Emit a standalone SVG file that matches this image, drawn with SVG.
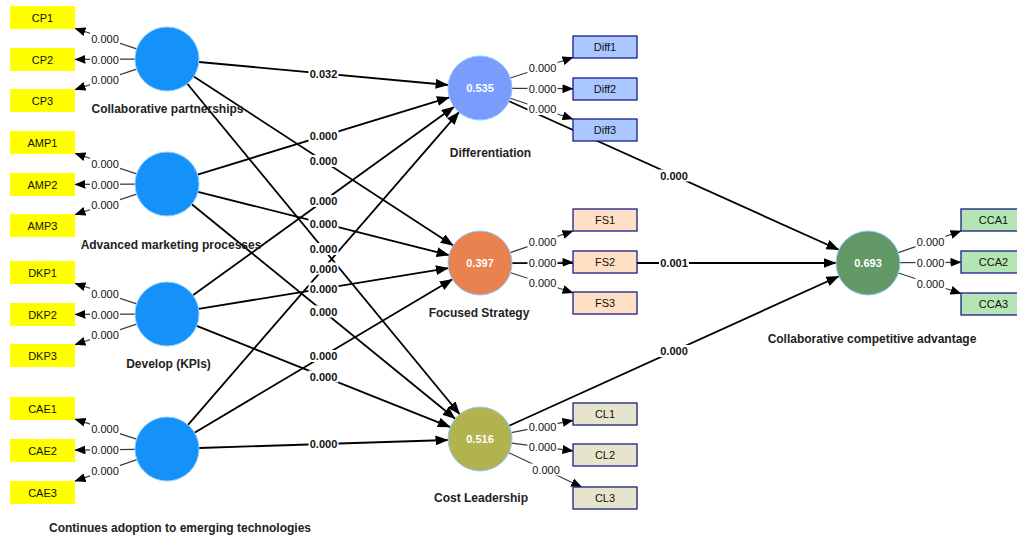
<svg xmlns="http://www.w3.org/2000/svg" width="1017" height="535" viewBox="0 0 1017 535">
  <defs>
    <marker id="ah" markerUnits="userSpaceOnUse" markerWidth="13" markerHeight="10" refX="12.5" refY="5" orient="auto">
      <path d="M0,0 L13,5 L0,10 z" fill="#000"/>
    </marker>
    <marker id="ahs" markerUnits="userSpaceOnUse" markerWidth="11" markerHeight="9" refX="10.5" refY="4.5" orient="auto">
      <path d="M0,0 L11,4.5 L0,9 z" fill="#000"/>
    </marker>
    <style>
      text { font-family: "Liberation Sans", Arial, sans-serif; }
      .path { stroke: #000; stroke-width: 1.8; fill: none; marker-end: url(#ah); }
      .load { stroke: #3a3a3a; stroke-width: 1.2; fill: none; marker-end: url(#ahs); }
      .bg { fill: #fff; }
      .coef { font-size: 11px; font-weight: bold; fill: #111; text-anchor: middle; }
      .ld { font-size: 11px; fill: #111; text-anchor: middle; }
      .exo { fill: #1592fa; stroke: #8fcbff; stroke-width: 1; }
      .diff { fill: #7b9cff; stroke: #8fcbff; stroke-width: 1; }
      .fs { fill: #e8834f; stroke: #8fcbff; stroke-width: 1; }
      .cl { fill: #b2b24e; stroke: #8fcbff; stroke-width: 1; }
      .cca { fill: #629966; stroke: #8fcbff; stroke-width: 1; }
      .val { font-size: 11px; font-weight: bold; fill: #fff; text-anchor: middle; }
      .name { font-size: 12px; font-weight: bold; fill: #222; text-anchor: middle; }
      .yel { fill: #ffff00; }
      .bdiff { fill: #aac7ff; stroke: #1c1c8c; stroke-width: 1.3; }
      .bfs { fill: #ffe0c4; stroke: #1c1c8c; stroke-width: 1.3; }
      .bcl { fill: #e6e5cb; stroke: #1c1c8c; stroke-width: 1.3; }
      .bcca { fill: #b3e6b2; stroke: #1c1c8c; stroke-width: 1.3; }
      .itxt { font-size: 11px; fill: #111; text-anchor: middle; }
    </style>
  </defs>

  <rect x="0" y="0" width="1017" height="535" fill="#fff"/>

  <!-- connectors: structural paths, outer loadings and their coefficient labels -->
  <g id="connectors">
    <!-- structural paths -->
    <line class="path" x1="198.9" y1="62.0" x2="448.1" y2="85.0"/>
    <line class="path" x1="193.8" y1="76.5" x2="453.2" y2="245.5"/>
    <line class="path" x1="187.3" y1="83.7" x2="459.7" y2="414.3"/>
    <line class="path" x1="197.6" y1="174.6" x2="449.4" y2="97.4"/>
    <line class="path" x1="198.0" y1="191.8" x2="449.0" y2="255.2"/>
    <line class="path" x1="191.8" y1="204.2" x2="455.2" y2="418.8"/>
    <line class="path" x1="192.9" y1="295.3" x2="454.1" y2="106.7"/>
    <line class="path" x1="198.6" y1="308.9" x2="448.4" y2="268.1"/>
    <line class="path" x1="196.7" y1="325.9" x2="450.3" y2="427.1"/>
    <line class="path" x1="188.0" y1="424.8" x2="459.0" y2="112.2"/>
    <line class="path" x1="194.5" y1="432.7" x2="452.5" y2="279.3"/>
    <line class="path" x1="199.0" y1="448.0" x2="448.0" y2="440.0"/>
    <line class="path" x1="509.2" y1="101.2" x2="838.8" y2="249.8"/>
    <line class="path" x1="512" y1="263" x2="836" y2="263"/>
    <line class="path" x1="509.1" y1="425.8" x2="838.9" y2="276.2"/>

    <!-- outer loadings, left -->
    <line class="load" x1="136.6" y1="48.9" x2="75" y2="28.3"/>
    <line class="load" x1="135" y1="59.1" x2="75" y2="59.4"/>
    <line class="load" x1="136.6" y1="69.1" x2="75" y2="89.7"/>
    <line class="load" x1="136.6" y1="173.9" x2="75" y2="153.3"/>
    <line class="load" x1="135" y1="184.1" x2="75" y2="184.4"/>
    <line class="load" x1="136.6" y1="194.1" x2="75" y2="214.7"/>
    <line class="load" x1="136.6" y1="303.9" x2="75" y2="283.3"/>
    <line class="load" x1="135" y1="314.1" x2="75" y2="314.4"/>
    <line class="load" x1="136.6" y1="324.1" x2="75" y2="344.7"/>
    <line class="load" x1="136.6" y1="439.1" x2="75" y2="419.1"/>
    <line class="load" x1="135" y1="449.4" x2="75" y2="450.1"/>
    <line class="load" x1="136.8" y1="459.6" x2="75" y2="481.1"/>

    <!-- outer loadings, right -->
    <line class="load" x1="510.4" y1="78.0" x2="573" y2="57.5"/>
    <line class="load" x1="512" y1="88.3" x2="573" y2="88.7"/>
    <line class="load" x1="510.3" y1="98.2" x2="573" y2="119.2"/>
    <line class="load" x1="510.3" y1="252.6" x2="573" y2="231"/>
    <line class="load" x1="512" y1="262.7" x2="573" y2="262.3"/>
    <line class="load" x1="510.5" y1="272.8" x2="573" y2="292.8"/>
    <line class="load" x1="511.4" y1="432.7" x2="573" y2="420.4"/>
    <line class="load" x1="511.7" y1="443.1" x2="573" y2="450.9"/>
    <line class="load" x1="508.9" y1="452.7" x2="581.7" y2="487"/>
    <line class="load" x1="898.3" y1="252.6" x2="961" y2="231"/>
    <line class="load" x1="900" y1="262.7" x2="961" y2="262.3"/>
    <line class="load" x1="898.4" y1="273.0" x2="961" y2="293.5"/>

    <!-- path coefficient labels -->
    <g>
      <rect class="bg" x="308.5" y="67.5" width="30" height="12"/><text class="coef" x="323.5" y="77.5">0.032</text>
      <rect class="bg" x="308.5" y="130" width="30" height="12"/><text class="coef" x="323.5" y="140">0.000</text>
      <rect class="bg" x="308.5" y="155" width="30" height="12"/><text class="coef" x="323.5" y="165">0.000</text>
      <rect class="bg" x="308.5" y="195" width="30" height="12"/><text class="coef" x="323.5" y="205">0.000</text>
      <rect class="bg" x="308.5" y="217.5" width="30" height="12"/><text class="coef" x="323.5" y="227.5">0.000</text>
      <rect class="bg" x="308.5" y="243" width="30" height="12"/><text class="coef" x="323.5" y="253">0.000</text>
      <rect class="bg" x="308.5" y="262.5" width="30" height="12"/><text class="coef" x="323.5" y="272.5">0.000</text>
      <rect class="bg" x="308.5" y="282.5" width="30" height="12"/><text class="coef" x="323.5" y="292.5">0.000</text>
      <rect class="bg" x="308.5" y="305.5" width="30" height="12"/><text class="coef" x="323.5" y="315.5">0.000</text>
      <rect class="bg" x="308.5" y="350" width="30" height="12"/><text class="coef" x="323.5" y="360">0.000</text>
      <rect class="bg" x="308.5" y="370.5" width="30" height="12"/><text class="coef" x="323.5" y="380.5">0.000</text>
      <rect class="bg" x="308.5" y="438" width="30" height="12"/><text class="coef" x="323.5" y="448">0.000</text>
      <rect class="bg" x="659" y="169.5" width="30" height="12"/><text class="coef" x="674" y="179.5">0.000</text>
      <rect class="bg" x="659" y="257" width="30" height="12"/><text class="coef" x="674" y="267">0.001</text>
      <rect class="bg" x="659" y="345" width="30" height="12"/><text class="coef" x="674" y="355">0.000</text>
    </g>

    <!-- outer loading labels -->
    <g>
      <rect class="bg" x="90" y="32.5" width="30" height="12"/><text class="ld" x="105" y="42.5">0.000</text>
      <rect class="bg" x="90" y="53.5" width="30" height="12"/><text class="ld" x="105" y="63.5">0.000</text>
      <rect class="bg" x="90" y="74" width="30" height="12"/><text class="ld" x="105" y="84">0.000</text>
      <rect class="bg" x="90" y="157.5" width="30" height="12"/><text class="ld" x="105" y="167.5">0.000</text>
      <rect class="bg" x="90" y="178.5" width="30" height="12"/><text class="ld" x="105" y="188.5">0.000</text>
      <rect class="bg" x="90" y="199" width="30" height="12"/><text class="ld" x="105" y="209">0.000</text>
      <rect class="bg" x="90" y="287.5" width="30" height="12"/><text class="ld" x="105" y="297.5">0.000</text>
      <rect class="bg" x="90" y="308.5" width="30" height="12"/><text class="ld" x="105" y="318.5">0.000</text>
      <rect class="bg" x="90" y="329" width="30" height="12"/><text class="ld" x="105" y="339">0.000</text>
      <rect class="bg" x="90" y="423" width="30" height="12"/><text class="ld" x="105" y="433">0.000</text>
      <rect class="bg" x="90" y="444" width="30" height="12"/><text class="ld" x="105" y="454">0.000</text>
      <rect class="bg" x="90" y="465" width="30" height="12"/><text class="ld" x="105" y="475">0.000</text>

      <rect class="bg" x="527.5" y="61.5" width="30" height="12"/><text class="ld" x="542.5" y="71.5">0.000</text>
      <rect class="bg" x="527.5" y="82.5" width="30" height="12"/><text class="ld" x="542.5" y="92.5">0.000</text>
      <rect class="bg" x="527.5" y="103" width="30" height="12"/><text class="ld" x="542.5" y="113">0.000</text>
      <rect class="bg" x="527.5" y="235.5" width="30" height="12"/><text class="ld" x="542.5" y="245.5">0.000</text>
      <rect class="bg" x="527.5" y="256.5" width="30" height="12"/><text class="ld" x="542.5" y="266.5">0.000</text>
      <rect class="bg" x="527.5" y="277" width="30" height="12"/><text class="ld" x="542.5" y="287">0.000</text>
      <rect class="bg" x="527.5" y="420.5" width="30" height="12"/><text class="ld" x="542.5" y="430.5">0.000</text>
      <rect class="bg" x="527.5" y="441" width="30" height="12"/><text class="ld" x="542.5" y="451">0.000</text>
      <rect class="bg" x="531" y="463.5" width="30" height="12"/><text class="ld" x="546" y="473.5">0.000</text>
      <rect class="bg" x="915.5" y="235.5" width="30" height="12"/><text class="ld" x="930.5" y="245.5">0.000</text>
      <rect class="bg" x="915.5" y="256.5" width="30" height="12"/><text class="ld" x="930.5" y="266.5">0.000</text>
      <rect class="bg" x="915.5" y="277.5" width="30" height="12"/><text class="ld" x="930.5" y="287.5">0.000</text>
    </g>
  </g>

  <!-- latent variables -->
  <g id="cp">
    <circle class="exo" cx="167" cy="59" r="32"/>
    <text class="name" x="167.5" y="113">Collaborative partnerships</text>
  </g>
  <g id="amp">
    <circle class="exo" cx="167" cy="184" r="32"/>
    <text class="name" x="171" y="249">Advanced marketing processes</text>
  </g>
  <g id="dkp">
    <circle class="exo" cx="167" cy="314" r="32"/>
    <text class="name" x="168.5" y="368">Develop (KPIs)</text>
  </g>
  <g id="cae">
    <circle class="exo" cx="167" cy="449" r="32"/>
    <text class="name" x="180" y="532">Continues adoption to emerging technologies</text>
  </g>
  <g id="differentiation">
    <circle class="diff" cx="480" cy="88" r="32"/>
    <text class="val" x="480" y="92">0.535</text>
    <text class="name" x="490.5" y="157">Differentiation</text>
  </g>
  <g id="focused-strategy">
    <circle class="fs" cx="480" cy="263" r="32"/>
    <text class="val" x="480" y="267">0.397</text>
    <text class="name" x="479" y="317">Focused Strategy</text>
  </g>
  <g id="cost-leadership">
    <circle class="cl" cx="480" cy="439" r="32"/>
    <text class="val" x="480" y="443">0.516</text>
    <text class="name" x="481" y="502">Cost Leadership</text>
  </g>
  <g id="cca">
    <circle class="cca" cx="868" cy="263" r="32"/>
    <text class="val" x="868" y="267">0.693</text>
    <text class="name" x="872" y="343">Collaborative competitive advantage</text>
  </g>

  <!-- indicators, left -->
  <g id="CP1"><rect class="yel" x="10" y="6" width="65" height="23"/><text class="itxt" x="42.5" y="21.5">CP1</text></g>
  <g id="CP2"><rect class="yel" x="10" y="48" width="65" height="23"/><text class="itxt" x="42.5" y="63.5">CP2</text></g>
  <g id="CP3"><rect class="yel" x="10" y="89" width="65" height="23"/><text class="itxt" x="42.5" y="104.5">CP3</text></g>
  <g id="AMP1"><rect class="yel" x="10" y="131" width="65" height="23"/><text class="itxt" x="42.5" y="146.5">AMP1</text></g>
  <g id="AMP2"><rect class="yel" x="10" y="173" width="65" height="23"/><text class="itxt" x="42.5" y="188.5">AMP2</text></g>
  <g id="AMP3"><rect class="yel" x="10" y="214" width="65" height="23"/><text class="itxt" x="42.5" y="229.5">AMP3</text></g>
  <g id="DKP1"><rect class="yel" x="10" y="261" width="65" height="23"/><text class="itxt" x="42.5" y="276.5">DKP1</text></g>
  <g id="DKP2"><rect class="yel" x="10" y="303" width="65" height="23"/><text class="itxt" x="42.5" y="318.5">DKP2</text></g>
  <g id="DKP3"><rect class="yel" x="10" y="344" width="65" height="23"/><text class="itxt" x="42.5" y="359.5">DKP3</text></g>
  <g id="CAE1"><rect class="yel" x="10" y="397" width="65" height="23"/><text class="itxt" x="42.5" y="412.5">CAE1</text></g>
  <g id="CAE2"><rect class="yel" x="10" y="439" width="65" height="23"/><text class="itxt" x="42.5" y="454.5">CAE2</text></g>
  <g id="CAE3"><rect class="yel" x="10" y="481" width="65" height="23"/><text class="itxt" x="42.5" y="496.5">CAE3</text></g>

  <!-- indicators, right -->
  <g id="Diff1"><rect class="bdiff" x="573" y="36" width="64" height="22"/><text class="itxt" x="605" y="51">Diff1</text></g>
  <g id="Diff2"><rect class="bdiff" x="573" y="78" width="64" height="22"/><text class="itxt" x="605" y="93">Diff2</text></g>
  <g id="Diff3"><rect class="bdiff" x="573" y="119" width="64" height="22"/><text class="itxt" x="605" y="134">Diff3</text></g>
  <g id="FS1"><rect class="bfs" x="573" y="209" width="64" height="22"/><text class="itxt" x="605" y="224">FS1</text></g>
  <g id="FS2"><rect class="bfs" x="573" y="251" width="64" height="22"/><text class="itxt" x="605" y="266">FS2</text></g>
  <g id="FS3"><rect class="bfs" x="573" y="292" width="64" height="22"/><text class="itxt" x="605" y="307">FS3</text></g>
  <g id="CL1"><rect class="bcl" x="573" y="403" width="64" height="22"/><text class="itxt" x="605" y="418">CL1</text></g>
  <g id="CL2"><rect class="bcl" x="573" y="444" width="64" height="22"/><text class="itxt" x="605" y="459">CL2</text></g>
  <g id="CL3"><rect class="bcl" x="573" y="487" width="64" height="22"/><text class="itxt" x="605" y="502">CL3</text></g>
  <g id="CCA1"><rect class="bcca" x="961" y="209" width="65" height="22"/><text class="itxt" x="993.5" y="224">CCA1</text></g>
  <g id="CCA2"><rect class="bcca" x="961" y="251" width="65" height="22"/><text class="itxt" x="993.5" y="266">CCA2</text></g>
  <g id="CCA3"><rect class="bcca" x="961" y="293" width="65" height="22"/><text class="itxt" x="993.5" y="308">CCA3</text></g>
</svg>
